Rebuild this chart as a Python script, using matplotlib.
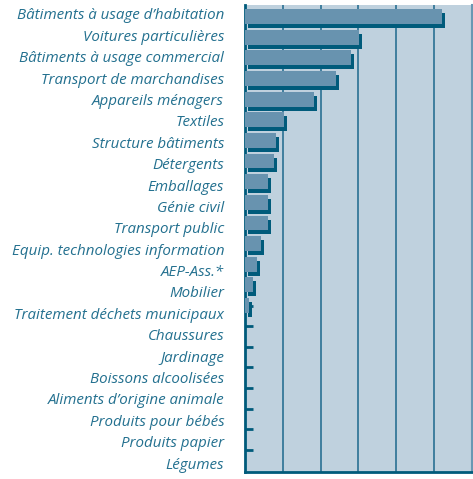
import matplotlib
matplotlib.use("Agg")
import matplotlib.pyplot as plt
from matplotlib.transforms import offset_copy

categories = [
    "Bâtiments à usage d’habitation", "Voitures particulières",
    "Bâtiments à usage commercial", "Transport de marchandises",
    "Appareils ménagers", "Textiles", "Structure bâtiments", "Détergents",
    "Emballages", "Génie civil", "Transport public",
    "Equip. technologies information", "AEP-Ass.*", "Mobilier",
    "Traitement déchets municipaux", "Chaussures", "Jardinage",
    "Boissons alcoolisées", "Aliments d’origine animale",
    "Produits pour bébés", "Produits papier", "Légumes",
]
values = [26.1, 15.1, 14.0, 12.0, 9.1, 5.1, 4.1, 3.8, 3.0, 3.0, 3.0,
          2.1, 1.6, 1.1, 0.5, 0, 0, 0, 0, 0, 0, 0]
xticks = [0, 5, 10, 15, 20, 25, 30]

W, H = 473, 479
fig = plt.figure(figsize=(W / 100, H / 100), dpi=100)
ax = fig.add_axes([245 / W, 1 - 471.7 / H, (471.7 - 245) / W, (471.7 - 5) / H])

bg = "#BFD1DE"
front = "#6893AF"
dark = "#005B7B"
txt = "#23708F"

ax.set_facecolor(bg)
ypos = list(range(len(categories)))
shadow_tr = offset_copy(ax.transData, fig=fig, x=3, y=-4, units="dots")
ax.barh(ypos, values, height=0.72, color=dark, transform=shadow_tr, zorder=2)
ax.barh(ypos, values, height=0.72, color=front, zorder=3)

ax.set_xlim(0, 30)
ax.set_ylim(22.05, -0.557)
ax.set_xticks(xticks)
ax.set_xticklabels([str(v) for v in xticks], color=txt, fontsize=10,
                   family="Open Sans", style="italic")
ax.tick_params(axis="x", length=0, pad=5)
ax.grid(axis="x", color="#3F7E9E", linewidth=1.4, zorder=1)
ax.set_axisbelow(True)

ax.set_yticks(ypos)
ax.set_yticklabels([])
ax.tick_params(axis="y", direction="in", length=6, width=2, color=dark)

for s in ["left", "bottom"]:
    ax.spines[s].set_color(dark)
    ax.spines[s].set_linewidth(2)
ax.spines["top"].set_visible(False)
ax.spines["right"].set_color("#6A98B3")
ax.spines["right"].set_linewidth(1.5)

# label axis (labels in the original are spaced slightly differently from bars)
def fwd(y):
    return (2.5 + 20.64 * y) / 21.38

def inv(j):
    return (21.38 * j - 2.5) / 20.64

sec = ax.secondary_yaxis("left", functions=(fwd, inv))
sec.set_yticks(ypos)
sec.set_yticklabels(categories, color=txt, fontsize=10.9,
                    family="Open Sans", style="italic")
sec.tick_params(length=0, pad=15)
sec.spines["left"].set_visible(False)

fig.savefig("out.png", dpi=100)
